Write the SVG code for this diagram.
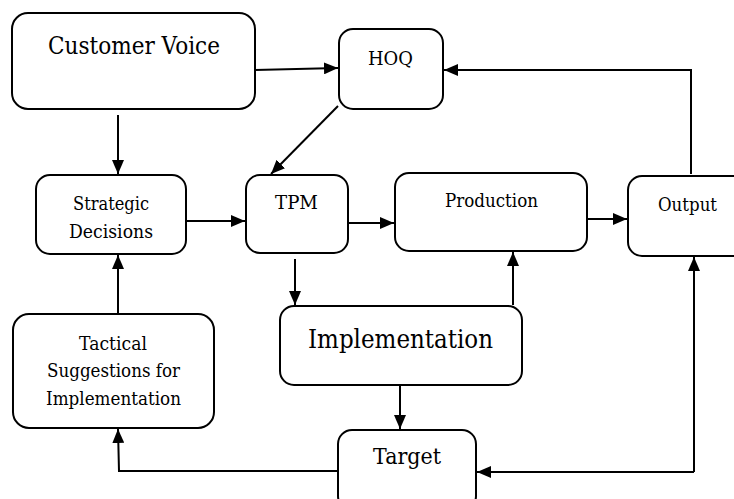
<svg xmlns="http://www.w3.org/2000/svg" width="734" height="499" viewBox="0 0 734 499">
<style>
.box{fill:#fff;stroke:#000;stroke-width:2}
.t{fill:#000;text-anchor:middle;font-family:"DejaVu Serif",serif}
.c{fill:none;stroke:#000;stroke-width:2}
</style>
<defs>
<marker id="ah" markerWidth="14" markerHeight="12" refX="14" refY="6" orient="auto" markerUnits="userSpaceOnUse">
<path d="M0,0 L14,6 L0,12 Z" fill="#000"/>
</marker>
</defs>
<rect width="734" height="499" fill="#fff"/>
<g id="connectors">
<path class="c" d="M255,70 L338,68" marker-end="url(#ah)"/>
<path class="c" d="M691,174 L691,70 L444,70" marker-end="url(#ah)"/>
<path class="c" d="M118,115 L118,174" marker-end="url(#ah)"/>
<path class="c" d="M338,106 L271,174" marker-end="url(#ah)"/>
<path class="c" d="M186,221 L245,221" marker-end="url(#ah)"/>
<path class="c" d="M348,223 L394,223" marker-end="url(#ah)"/>
<path class="c" d="M587,219 L627,219" marker-end="url(#ah)"/>
<path class="c" d="M118,314 L118,255" marker-end="url(#ah)"/>
<path class="c" d="M295,259 L295,305" marker-end="url(#ah)"/>
<path class="c" d="M513,305 L513,252" marker-end="url(#ah)"/>
<path class="c" d="M400,385 L400,429" marker-end="url(#ah)"/>
<path class="c" d="M338,471 L119,471 L118,429" marker-end="url(#ah)"/>
<path class="c" d="M694,472 L477,472" marker-end="url(#ah)"/>
<path class="c" d="M694,472 L694,257" marker-end="url(#ah)"/>
</g>
<g id="customer-voice">
<rect class="box" x="12" y="13" width="243" height="96" rx="16"/>
<text class="t" x="134" y="54" font-size="24" textLength="172" lengthAdjust="spacingAndGlyphs">Customer Voice</text>
</g>
<g id="hoq">
<rect class="box" x="339" y="29" width="104" height="80" rx="14"/>
<text class="t" x="390.5" y="65" font-size="19" textLength="45" lengthAdjust="spacingAndGlyphs">HOQ</text>
</g>
<g id="strategic-decisions">
<rect class="box" x="36" y="175" width="150" height="79" rx="14"/>
<text class="t" x="111" y="210" font-size="19" textLength="76" lengthAdjust="spacingAndGlyphs">Strategic</text>
<text class="t" x="111" y="238" font-size="19" textLength="84" lengthAdjust="spacingAndGlyphs">Decisions</text>
</g>
<g id="tpm">
<rect class="box" x="246" y="175" width="102" height="78" rx="14"/>
<text class="t" x="296.5" y="209" font-size="19" textLength="43" lengthAdjust="spacingAndGlyphs">TPM</text>
</g>
<g id="production">
<rect class="box" x="395" y="173" width="192" height="78" rx="14"/>
<text class="t" x="491.5" y="207" font-size="19" textLength="93" lengthAdjust="spacingAndGlyphs">Production</text>
</g>
<g id="output">
<rect class="box" x="628" y="176" width="120" height="80" rx="14"/>
<text class="t" x="687.5" y="211" font-size="19" textLength="59" lengthAdjust="spacingAndGlyphs">Output</text>
</g>
<g id="tactical">
<rect class="box" x="13" y="314" width="201" height="114" rx="16"/>
<text class="t" x="113" y="350" font-size="19" textLength="68" lengthAdjust="spacingAndGlyphs">Tactical</text>
<text class="t" x="113.5" y="377" font-size="19" textLength="133" lengthAdjust="spacingAndGlyphs">Suggestions for</text>
<text class="t" x="113.5" y="405" font-size="19" textLength="135" lengthAdjust="spacingAndGlyphs">Implementation</text>
</g>
<g id="implementation">
<rect class="box" x="280" y="306" width="242" height="79" rx="14"/>
<text class="t" x="400.5" y="348" font-size="26" textLength="185" lengthAdjust="spacingAndGlyphs">Implementation</text>
</g>
<g id="target">
<rect class="box" x="338" y="430" width="138" height="80" rx="14"/>
<text class="t" x="407" y="464" font-size="23" textLength="68" lengthAdjust="spacingAndGlyphs">Target</text>
</g>
</svg>
